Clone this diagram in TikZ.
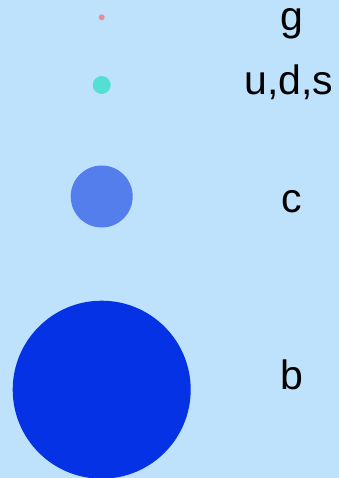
\documentclass[tikz,border=0pt]{standalone}
\usepackage{fontspec}
\setmainfont{Liberation Sans}
\definecolor{bg}{RGB}{190,226,251}
\definecolor{gcol}{RGB}{240,135,155}
\definecolor{udscol}{RGB}{85,222,212}
\definecolor{ccol}{RGB}{84,126,236}
\definecolor{bcol}{RGB}{6,50,230}
\begin{document}
\begin{tikzpicture}[x=1pt,y=-1pt,
  particle/.style={circle,inner sep=0pt,outer sep=0pt,draw=none},
  lbl/.style={anchor=base,inner sep=0pt,font=\fontsize{41}{41}\selectfont,text=black}]
\fill[bg] (0,0) rectangle (339,478);
\useasboundingbox (0,0) rectangle (339,478);
\node[particle,fill=gcol,minimum size=6pt] (g) at (101.7,17.3) {};
\node[particle,fill=udscol,minimum size=18pt] (uds) at (101.7,85) {};
\node[particle,fill=ccol,minimum size=62pt] (c) at (101.7,196.5) {};
\node[particle,fill=bcol,minimum size=178pt] (b) at (101.7,389.7) {};
\node[lbl] (lg) at (291.5,31) {g};
\node[lbl] (luds) at (289,95) {u,d,s};
\node[lbl] (lc) at (291.7,212) {c};
\node[lbl] (lb) at (291.5,389.5) {b};
\end{tikzpicture}
\end{document}
